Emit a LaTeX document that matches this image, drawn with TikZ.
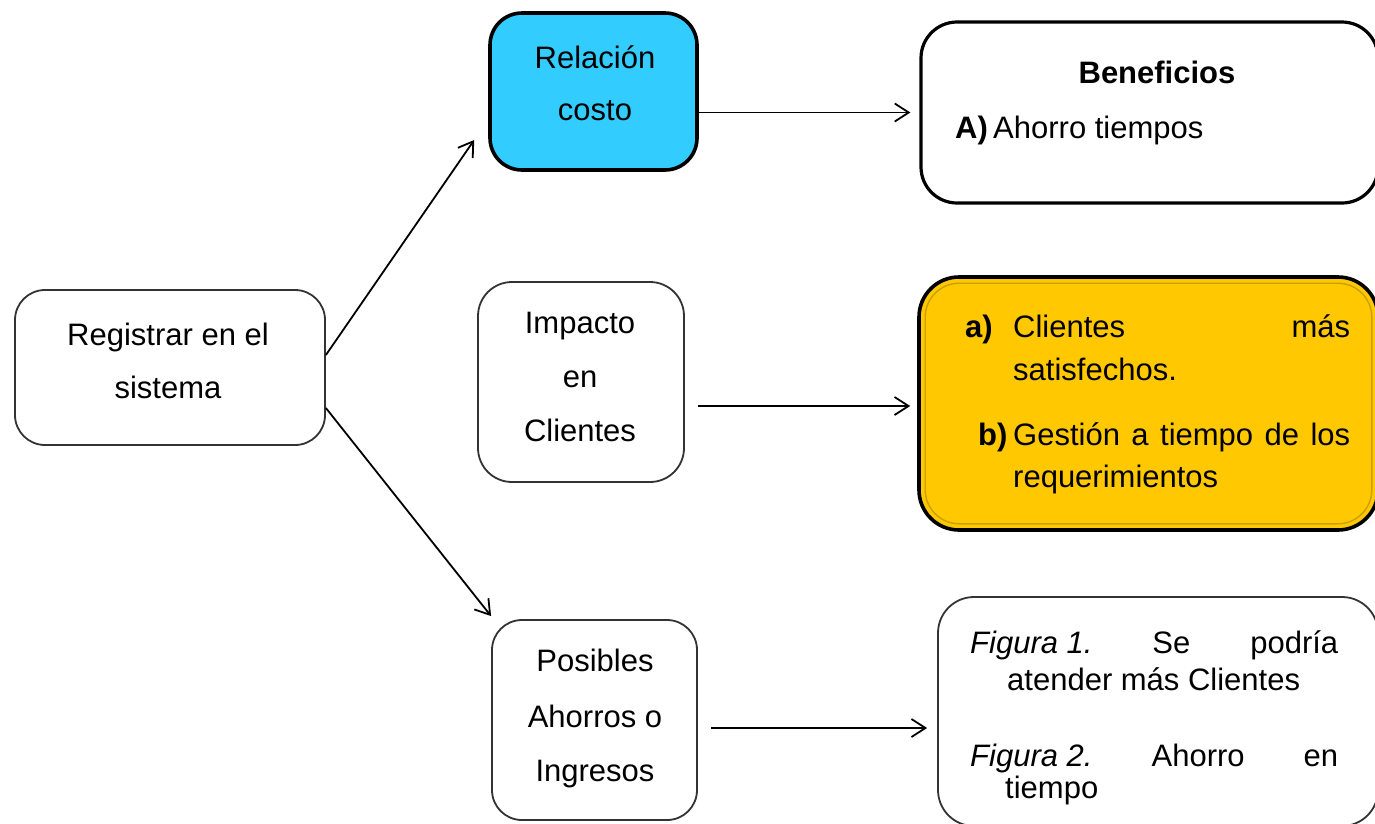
\documentclass[tikz,border=0pt]{standalone}
\usepackage{fontspec}
\setmainfont{Liberation Sans}
\usetikzlibrary{arrows.meta,calc}
\definecolor{cyanfill}{HTML}{33CCFF}
\definecolor{yelfill}{HTML}{FFC800}
\definecolor{yelline}{HTML}{C9A000}
\definecolor{thinline}{HTML}{333333}
\begin{document}
\begin{tikzpicture}[x=1pt,y=-1pt,
  thinbox/.style={draw=thinline,line width=1.8pt,rounded corners=30pt,inner sep=0pt},
  thickbox/.style={draw=black,line width=3.6pt,rounded corners=32pt,inner sep=0pt},
  txt/.style={inner sep=0pt,anchor=base,font=\fontsize{31}{37}\selectfont},
  ltxt/.style={inner sep=0pt,anchor=base west,font=\fontsize{31}{37}\selectfont},
  arr/.style={draw=black,line width=1.8pt,-{Straight Barb[length=14pt,width=18pt,line width=1.8pt]}}]
\useasboundingbox (0,0) rectangle (1375,823);
\fill[white] (0,0) rectangle (1375,823);

% boxes
\node[thinbox,minimum width=310,minimum height=155] (reg) at (170,367.5) {};
\node[thickbox,fill=cyanfill,minimum width=207,minimum height=157] (rel) at (593.5,91.5) {};
\node[thickbox,line width=3.2pt,rounded corners=36pt,minimum width=457,minimum height=181] (ben) at (1149.5,112.5) {};
\node[thinbox,rounded corners=34pt,minimum width=206,minimum height=200] (imp) at (581,382) {};
\node[thickbox,fill=yelfill,rounded corners=40pt,minimum width=459,minimum height=253] (yel) at (1148.5,403.5) {};
\draw[yelline,line width=1.4pt,rounded corners=34pt] ([shift={(8,8)}]yel.north west) rectangle ([shift={(-8,-8)}]yel.south east);
\node[thinbox,rounded corners=30pt,minimum width=205,minimum height=200] (pos) at (594.5,720) {};
\node[thinbox,rounded corners=36pt,minimum width=440,minimum height=229] (fig) at (1158,711.5) {};

% texts
\node[txt] (t1) at (168,345) {Registrar en el};
\node[txt] (t2) at (168,398) {sistema};
\node[txt] (t3) at (595,68) {Relación};
\node[txt] (t4) at (595,120) {costo};
\node[txt,font=\fontsize{31}{37}\selectfont\bfseries] (t5) at (1157,83) {Beneficios};
\node[ltxt,font=\fontsize{31}{37}\selectfont\bfseries] (t6) at (955,138) {A)};
\node[ltxt] (t7) at (993,138) {Ahorro tiempos};
\node[txt] (t8) at (580,333) {Impacto};
\node[txt] (t9) at (580,387) {en};
\node[txt] (t10) at (580,441) {Clientes};
\node[ltxt,font=\fontsize{31}{37}\selectfont\bfseries] (t11) at (965,337) {a)};
\node[ltxt] (t12) at (1013,337) {\hbox to 337pt{Clientes\hfill más}};
\node[ltxt] (t13) at (1013,380) {satisfechos.};
\node[ltxt,font=\fontsize{31}{37}\selectfont\bfseries] (t14) at (978,445) {b)};
\node[ltxt] (t15) at (1013,445) {\hbox to 337pt{Gestión a tiempo de los}};
\node[ltxt] (t16) at (1013,487) {requerimientos};
\node[txt] (t17) at (595,671) {Posibles};
\node[txt] (t18) at (595,727) {Ahorros o};
\node[txt] (t19) at (595,781) {Ingresos};
\node[ltxt] (t20) at (970,653) {\hbox to 368pt{\textit{Figura 1.}\hfill Se\hfill podría}};
\node[ltxt] (t21) at (1007,690) {atender más Clientes};
\node[ltxt] (t22) at (970,766) {\hbox to 368pt{\textit{Figura 2.}\hfill Ahorro\hfill en}};
\node[ltxt] (t23) at (1005,798) {tiempo};

% connectors
\coordinate (regup) at ([yshift=12.5]reg.east);
\coordinate (regdn) at ([yshift=-40.5]reg.east);
\coordinate (relin) at ([xshift=-14,yshift=-48.5]rel.west);
\coordinate (posin) at ([yshift=3]pos.north west);
\draw[arr] (regup) -- (relin);
\draw[arr] (regdn) -- (posin);
\draw[arr,shorten >=9pt] (rel.east |- ben.west) -- (ben.west);
\coordinate (impout) at ([xshift=13,yshift=-24]imp.east);
\draw[arr,shorten >=7pt] (impout) -- (impout -| yel.west);
\coordinate (posout) at ([xshift=13,yshift=-8]pos.east);
\draw[arr,shorten >=10pt] (posout) -- (posout -| fig.west);
\end{tikzpicture}
\end{document}
